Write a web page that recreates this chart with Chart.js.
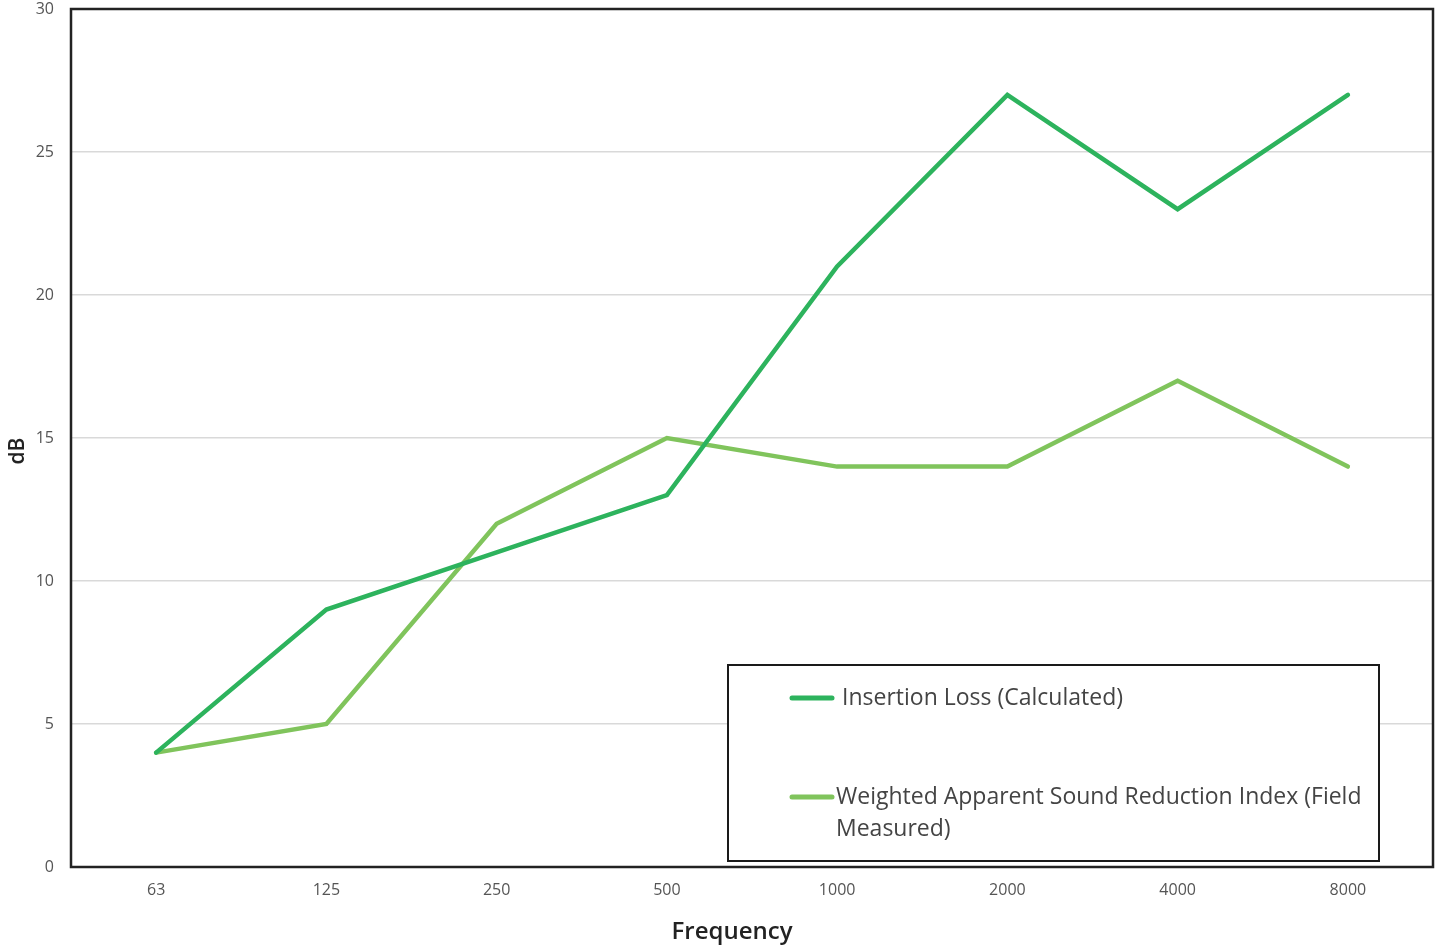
<!DOCTYPE html>
<html>
<head>
<meta charset="utf-8">
<script src="https://cdn.jsdelivr.net/npm/chart.js@4.4.0/dist/chart.umd.min.js"></script>
<style>
  html, body { margin: 0; padding: 0; background: #fff; }
  #wrap { width: 1442px; height: 950px; }
</style>
</head>
<body>
<div id="wrap"><canvas id="chart" width="1442" height="950"></canvas></div>
<script>
const frequencies = ["63", "125", "250", "500", "1000", "2000", "4000", "8000"];
const insertionLoss = [4, 9, 11, 13, 21, 27, 23, 27];
const weightedIndex = [4, 5, 12, 15, 14, 14, 17, 14];
const seriesNames = ["Insertion Loss (Calculated)", ["Weighted Apparent Sound Reduction Index (Field", "Measured)"]];
const xTitle = "Frequency";
const yTitle = "dB";

// frame round the plot, axis titles, boxed legend inside the plot
const framePlugin = {
    id: "frame",
    afterDraw(chart) {
        const ctx = chart.ctx;
        const a = chart.chartArea;
        ctx.save();
        ctx.strokeStyle = "#222";
        ctx.lineWidth = 2.5;
        ctx.strokeRect(a.left, a.top, a.right - a.left, a.bottom - a.top);

        // axis titles
        ctx.fillStyle = "#222";
        ctx.textAlign = "center";
        ctx.textBaseline = "middle";
        ctx.font = "600 24px 'Open Sans'";
        ctx.fillText(xTitle, 732, 932);
        ctx.save();
        ctx.translate(18, 451);
        ctx.rotate(-Math.PI / 2);
        ctx.font = "600 21px 'Open Sans'";
        ctx.fillText(yTitle, 0, 0);
        ctx.restore();

        // legend box
        const bx = 728, by = 665, bw = 651, bh = 196;
        ctx.fillStyle = "#fff";
        ctx.fillRect(bx, by, bw, bh);
        ctx.strokeStyle = "#1a1a1a";
        ctx.lineWidth = 2;
        ctx.strokeRect(bx, by, bw, bh);

        ctx.font = "23px 'Open Sans'";
        ctx.textAlign = "left";
        ctx.fillStyle = "#444";
        const rows = [
            { y: 698, x1: 792, x2: 832, tx: 842 },
            { y: 797, x1: 792, x2: 832, tx: 836 }
        ];
        chart.data.datasets.forEach((ds, i) => {
            const r = rows[i];
            ctx.strokeStyle = ds.borderColor;
            ctx.lineWidth = 5;
            ctx.lineCap = "round";
            ctx.beginPath();
            ctx.moveTo(r.x1, r.y);
            ctx.lineTo(r.x2, r.y);
            ctx.stroke();
            const lines = Array.isArray(ds.label) ? ds.label : [ds.label];
            lines.forEach((t, j) => ctx.fillText(t, r.tx, r.y + j * 32));
        });
        ctx.restore();
    }
};

new Chart(document.getElementById("chart"), {
    type: "line",
    data: {
        labels: frequencies,
        datasets: [{
            label: seriesNames[0],
            data: insertionLoss,
            borderColor: "#2db35d",
            borderWidth: 4.5,
            pointRadius: 0,
            tension: 0,
            borderCapStyle: "round"
        }, {
            label: seriesNames[1],
            data: weightedIndex,
            borderColor: "#80c45c",
            borderWidth: 4.5,
            pointRadius: 0,
            tension: 0,
            borderCapStyle: "round"
        }]
    },
    options: {
        responsive: false,
        maintainAspectRatio: false,
        animation: false,
        layout: { padding: { left: 0, top: 9, right: 9, bottom: 0 } },
        plugins: {
            legend: { display: false },
            tooltip: { enabled: false }
        },
        scales: {
            x: {
                offset: true,
                grid: { display: false, drawTicks: false },
                border: { display: false },
                ticks: { color: "#555", font: { size: 16, family: "'Open Sans'" }, padding: 14, maxRotation: 0 },
                afterFit(scale) {
                    scale.height = 83;
                    scale.paddingLeft = 0;
                    scale.paddingRight = 0;
                }
            },
            y: {
                min: 0,
                max: 30,
                ticks: { stepSize: 5, color: "#555", font: { size: 16, family: "'Open Sans'" }, padding: 17 },
                grid: { color: "#d9d9d9", lineWidth: 1.5, drawTicks: false },
                border: { display: false },
                afterFit(scale) {
                    scale.width = 71;
                    scale.paddingTop = 0;
                    scale.paddingBottom = 0;
                }
            }
        }
    },
    plugins: [framePlugin]
});
</script>
</body>
</html>
